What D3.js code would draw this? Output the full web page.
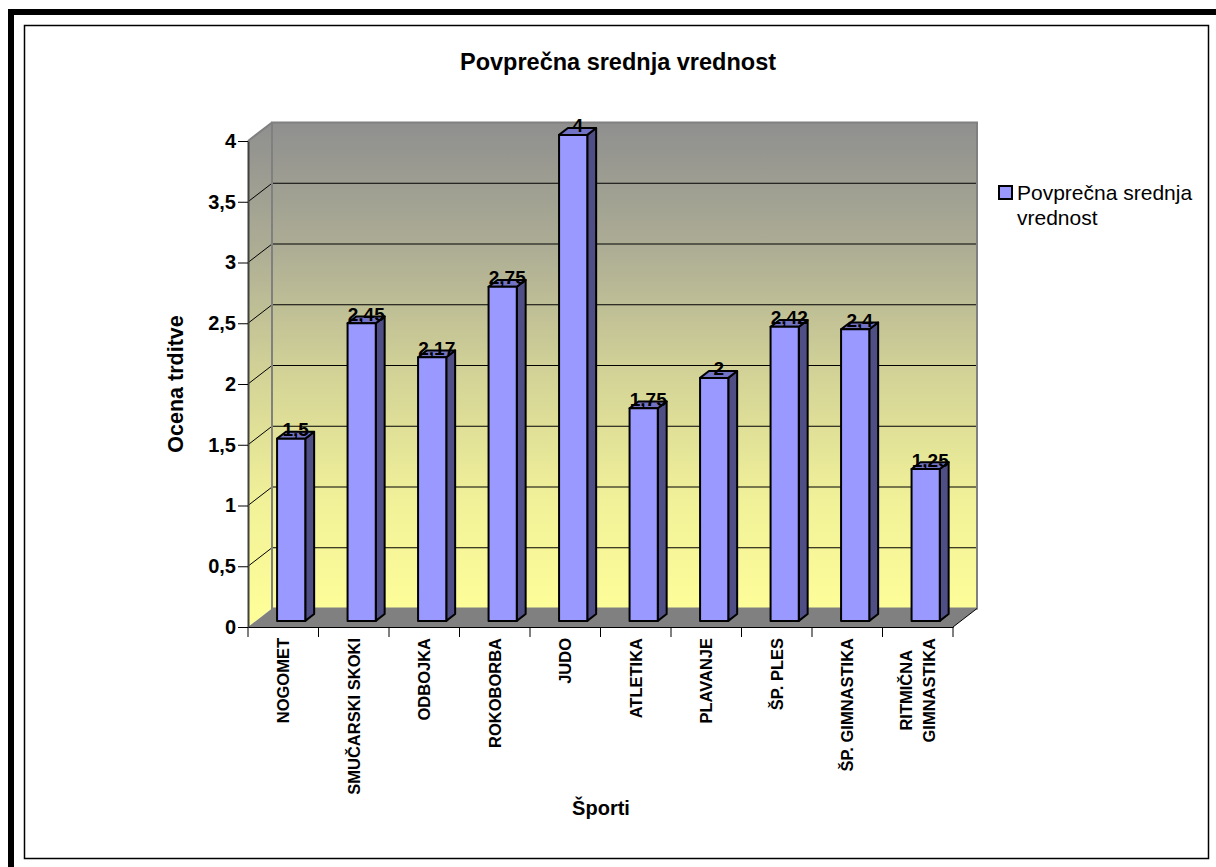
<!DOCTYPE html>
<html>
<head>
<meta charset="utf-8">
<script src="https://cdn.jsdelivr.net/npm/d3@7"></script>
<style>
  html, body { margin: 0; padding: 0; background: #fff; }
  svg { display: block; font-family: "Liberation Sans", Arial, sans-serif; }
</style>
</head>
<body>
<svg id="chart" width="1216" height="867"></svg>
<script>
// Average score per sport
const categories = ["NOGOMET", "SMUČARSKI SKOKI", "ODBOJKA", "ROKOBORBA", "JUDO",
                    "ATLETIKA", "PLAVANJE", "ŠP. PLES", "ŠP. GIMNASTIKA", "RITMIČNA\nGIMNASTIKA"];
const values = [1.5, 2.45, 2.17, 2.75, 4, 1.75, 2, 2.42, 2.4, 1.25];
const yTicks = [0, 0.5, 1, 1.5, 2, 2.5, 3, 3.5, 4];
const seriesName = "Povprečna srednja vrednost";
const chartTitle = "Povprečna srednja vrednost";
const yTitle = "Ocena trditve";
const xTitle = "Športi";

const svg = d3.select("#chart");
const comma = d => String(d).replace(".", ",");

// Frame: heavy rule on top/left and a thin inner box
svg.append("rect").attr("x", 24.5).attr("y", 25.5).attr("width", 1184).attr("height", 833)
  .attr("fill", "#fff").attr("stroke", "#000").attr("stroke-width", 1.5);
svg.append("line").attr("x1", 8).attr("x2", 1216).attr("y1", 12).attr("y2", 12)
  .attr("stroke", "#000").attr("stroke-width", 6);
svg.append("line").attr("x1", 11).attr("x2", 11).attr("y1", 9).attr("y2", 867)
  .attr("stroke", "#000").attr("stroke-width", 6);

// Scales (front plane) and the 3D depth offset
const x = d3.scaleBand().domain(categories).range([248, 953]).padding(0);
const y = d3.scaleLinear().domain([0, 4]).range([627, 141]);
const DX = 24, DY = -18.5;
const [x0, x1] = x.range();
const yb = y(0), yt = y(4);

const defs = svg.append("defs");
const grad = defs.append("linearGradient").attr("id", "wallGrad")
  .attr("gradientUnits", "userSpaceOnUse")
  .attr("x1", 0).attr("x2", 0).attr("y1", yt + DY).attr("y2", yb);
[[0, "#8f8f8f"], [0.25, "#adad95"], [0.5, "#d3d397"], [0.75, "#f1f199"], [1, "#ffff99"]]
  .forEach(([o, c]) => grad.append("stop").attr("offset", o).attr("stop-color", c));

const plot = svg.append("g");

// Side wall
plot.append("polygon")
  .attr("points", [[x0, yt], [x0 + DX, yt + DY], [x0 + DX, yb + DY], [x0, yb]].join(" "))
  .attr("fill", "url(#wallGrad)");
// Back wall
plot.append("rect").attr("x", x0 + DX).attr("y", yt + DY)
  .attr("width", x1 - x0).attr("height", yb - yt)
  .attr("fill", "url(#wallGrad)");

// Gridlines on back wall and side wall
yTicks.filter(t => t > 0 && t < 4).forEach(t => {
  plot.append("line").attr("x1", x0 + DX).attr("x2", x1 + DX)
    .attr("y1", y(t) + DY).attr("y2", y(t) + DY).attr("stroke", "#000").attr("stroke-width", 1);
});
yTicks.filter(t => t > 0).forEach(t => {
  plot.append("line").attr("x1", x0).attr("x2", x0 + DX)
    .attr("y1", y(t)).attr("y2", y(t) + DY).attr("stroke", t === 4 ? "#808080" : "#000").attr("stroke-width", 1);
});

// Floor
plot.append("polygon")
  .attr("points", [[x0, yb], [x0 + DX, yb + DY], [x1 + DX, yb + DY], [x1, yb]].join(" "))
  .attr("fill", "#808080");

// Wall edges
plot.append("rect").attr("x", x0 + DX).attr("y", yt + DY)
  .attr("width", x1 - x0).attr("height", yb - yt)
  .attr("fill", "none").attr("stroke", "#808080").attr("stroke-width", 2);
plot.append("line").attr("x1", x0).attr("y1", yt).attr("x2", x0 + DX).attr("y2", yt + DY)
  .attr("stroke", "#808080").attr("stroke-width", 2);
plot.append("line").attr("x1", x1).attr("y1", yb).attr("x2", x1 + DX).attr("y2", yb + DY)
  .attr("stroke", "#000").attr("stroke-width", 1);

// Y axis
const yAxis = d3.axisLeft(y).tickValues(yTicks).tickFormat(comma).tickSize(10).tickSizeOuter(0);
const gy = svg.append("g").attr("transform", `translate(${x0},0)`).call(yAxis);
gy.select(".domain").attr("stroke", "#404040").attr("stroke-width", 2);
gy.selectAll(".tick line").attr("stroke", "#000").attr("stroke-width", 1);
gy.selectAll(".tick text").attr("x", -12).attr("font-size", 20).attr("font-weight", "bold")
  .attr("fill", "#000").attr("font-family", "Liberation Sans, Arial, sans-serif");

// X axis: line along the front edge, ticks at category boundaries
const gx = svg.append("g").attr("transform", `translate(0,${yb})`)
  .call(d3.axisBottom(x).tickSize(0).tickFormat(""));
gx.select(".domain").attr("stroke", "#000").attr("stroke-width", 1.2);
const bounds = categories.map(c => x(c)).concat([x1]);
gx.selectAll(".bound").data(bounds).join("line").attr("class", "bound")
  .attr("x1", d => d).attr("x2", d => d).attr("y1", 0).attr("y2", 10)
  .attr("stroke", "#000").attr("stroke-width", 1);

// Category labels, rotated, multi-line labels centred on each other
const labelTop = 638;
categories.forEach(c => {
  const lines = c.split("\n");
  const cx = x(c) + x.bandwidth() / 2;
  const g = svg.append("g");
  const texts = lines.map((ln, i) => g.append("text")
    .attr("font-size", 16.5).attr("font-weight", "bold").attr("fill", "#000")
    .attr("dominant-baseline", "central")
    .text(ln));
  if (lines.length === 1) {
    texts[0].attr("text-anchor", "end")
      .attr("transform", `translate(${cx},${labelTop}) rotate(-90)`);
  } else {
    const maxLen = d3.max(texts, t => t.node().getComputedTextLength());
    const gap = 23;
    texts.forEach((t, i) => {
      const lx = cx + (i - (lines.length - 1) / 2) * gap;
      t.attr("text-anchor", "middle")
        .attr("transform", `translate(${lx},${labelTop + maxLen / 2}) rotate(-90)`);
    });
  }
});

// 3D bars
const F1 = 0.33, F2 = 0.7;
const bw = x.bandwidth() * 0.4;
const ddx = DX * (F2 - F1), ddy = DY * (F2 - F1);
const bars = svg.append("g");
categories.forEach((c, i) => {
  const v = values[i];
  const cx = x(c) + x.bandwidth() / 2;
  const bx1 = cx - bw / 2 + DX * F1, bx2 = bx1 + bw;
  const by0 = y(0) + DY * F1, by1 = y(v) + DY * F1;
  const g = bars.append("g").attr("stroke", "#000").attr("stroke-width", 2).attr("stroke-linejoin", "round");
  g.append("polygon")
    .attr("points", [[bx2, by1], [bx2 + ddx, by1 + ddy], [bx2 + ddx, by0 + ddy], [bx2, by0]].join(" "))
    .attr("fill", "#4f4f86");
  g.append("polygon")
    .attr("points", [[bx1, by1], [bx1 + ddx, by1 + ddy], [bx2 + ddx, by1 + ddy], [bx2, by1]].join(" "))
    .attr("fill", "#7373c6");
  g.append("rect").attr("x", bx1).attr("y", by1).attr("width", bw).attr("height", by0 - by1)
    .attr("fill", "#9999ff");
});

// Value labels over the bar tops
categories.forEach((c, i) => {
  const v = values[i];
  const cx = x(c) + x.bandwidth() / 2;
  svg.append("text")
    .attr("x", cx + DX * 0.52).attr("y", y(v) + DY * 0.52 + 1)
    .attr("text-anchor", "middle").attr("font-size", 19).attr("font-weight", "bold")
    .attr("fill", "#000").text(comma(v));
});

// Titles
svg.append("text").attr("x", 618).attr("y", 70).attr("text-anchor", "middle")
  .attr("font-size", 23.5).attr("font-weight", "bold").text(chartTitle);
svg.append("text").attr("transform", "translate(183,384) rotate(-90)").attr("text-anchor", "middle")
  .attr("font-size", 21.5).attr("font-weight", "bold").text(yTitle);
svg.append("text").attr("x", 601).attr("y", 815).attr("text-anchor", "middle")
  .attr("font-size", 20).attr("font-weight", "bold").text(xTitle);

// Legend
const lg = svg.append("g");
lg.append("rect").attr("x", 999).attr("y", 186).attr("width", 13).attr("height", 13)
  .attr("fill", "#9999ff").attr("stroke", "#000").attr("stroke-width", 2);
const words = seriesName.split(" ");
const lt = lg.append("text").attr("font-size", 21).attr("fill", "#000");
lt.append("tspan").attr("x", 1017).attr("y", 200).text(words.slice(0, 2).join(" "));
lt.append("tspan").attr("x", 1017).attr("y", 225).text(words.slice(2).join(" "));
</script>
</body>
</html>
